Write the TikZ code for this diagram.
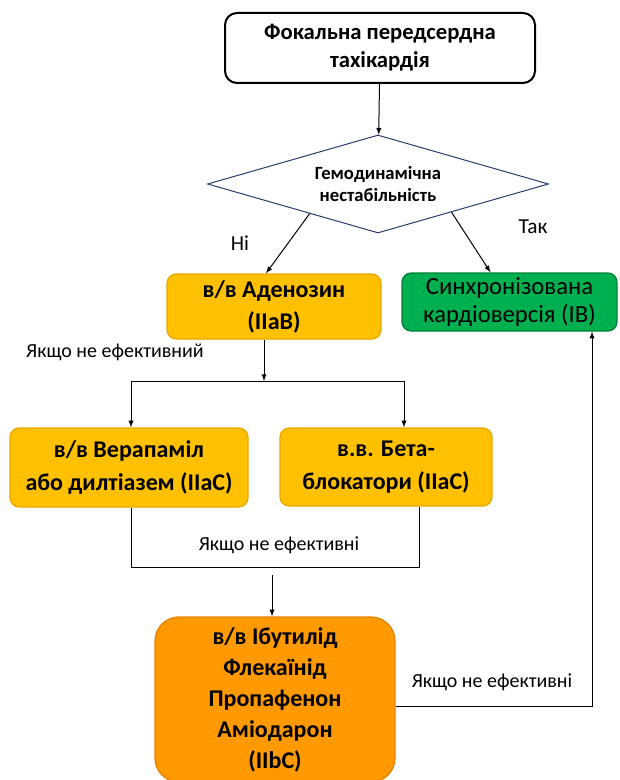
\documentclass[tikz,border=0pt]{standalone}
\usepackage{fontspec}
\setmainfont{Carlito}
\usetikzlibrary{arrows}
\usetikzlibrary{shapes.geometric, calc}
\definecolor{mygold}{RGB}{255,192,0}
\definecolor{mygoldline}{RGB}{232,168,0}
\definecolor{mygreen}{RGB}{0,176,80}
\definecolor{mygreenline}{RGB}{0,128,56}
\definecolor{myorange}{RGB}{255,153,0}
\definecolor{myorangeline}{RGB}{228,132,0}
\definecolor{mynavy}{RGB}{40,60,110}

\begin{document}
\begin{tikzpicture}[x=0.75pt,y=-0.75pt,
  box/.style={rounded corners=7pt, align=center, inner sep=0pt, line width=1pt},
  drug/.style={box, fill=mygold, draw=mygoldline, font=\fontsize{18}{24}\selectfont\bfseries},
  note/.style={font=\fontsize{15}{17}\selectfont},
  link/.style={line width=0.75pt}
]
\useasboundingbox (0,0) rectangle (619,780);

% nodes
\node[box, draw=black, line width=1.5pt, rounded corners=9pt, minimum width=232.5pt, minimum height=52.5pt,
  font=\fontsize{17}{21}\selectfont\bfseries] (fat) at (380,48) {Фокальна передсердна\\тахікардія};
\node[diamond, draw=mynavy, line width=0.75pt, aspect=3.5, inner sep=0pt, minimum width=255.75pt, minimum height=73.5pt,
  align=center, font=\fontsize{14}{16.5}\selectfont\bfseries] (hemo) at (378,184) {Гемодинамічна\\нестабільність};
\node[drug, minimum width=160.5pt, minimum height=48.75pt] (aden) at (274,306.5) {в/в Аденозин\\(IIaB)};
\node[box, fill=mygreen, draw=mygreenline, minimum width=161.25pt, minimum height=43.5pt,
  font=\fontsize{18.5}{21}\selectfont] (sync) at (509.5,302) {Синхронізована\\кардіоверсія (IB)};
\node[drug, minimum width=178.5pt, minimum height=59.25pt, font=\fontsize{18}{24.75}\selectfont\bfseries] (verap) at (129,467.5) {в/в Верапаміл\\або дилтіазем (IIaC)};
\node[drug, minimum width=159pt, minimum height=58.5pt, font=\fontsize{18}{24.75}\selectfont\bfseries] (beta) at (386,467) {в.в. Бета-\\блокатори (IIaC)};
\node[box, fill=myorange, draw=myorangeline, rounded corners=18pt, minimum width=180pt, minimum height=123.75pt,
  font=\fontsize{18}{23.25}\selectfont\bfseries] (amio) at (275,699.5) {в/в Ібутилід\\Флекаїнід\\Пропафенон\\Аміодарон\\(IIbC)};

% labels
\node[font=\fontsize{16}{18}\selectfont] (no) at (240,243) {Ні};
\node[font=\fontsize{16}{18}\selectfont] (yes) at (533,227) {Так};
\node[note] (fail1) at (115,352) {Якщо не ефективний};
\node[note] (fail2) at (279,545) {Якщо не ефективні};
\node[note] (fail3) at (492,682) {Якщо не ефективні};

% coordinates
\coordinate (noStart) at ($(hemo.west)!0.6!(hemo.south)$);
\coordinate (noEnd) at ($(aden.north)+(-8,0)$);
\coordinate (yesStart) at ($(hemo.south)!0.43!(hemo.east)$);
\coordinate (yesEnd) at ($(sync.north)+(-19,0)$);
\coordinate (split) at (264,381);
\coordinate (splitL) at (131,381);
\coordinate (splitR) at (404,381);
\coordinate (joinL) at (131,567);
\coordinate (joinR) at (419,567);
\coordinate (down) at (272,575);
\coordinate (back) at (592,706);

% connectors
\draw[-latex, link] (fat) -- (hemo);
\draw[-latex, link] (noStart) -- (noEnd);
\draw[-latex, link] (yesStart) -- (yesEnd);
\draw[-latex, link] (aden.south -| split) -- (split);
\draw[link] (splitL) -- (splitR);
\draw[-latex, link] (splitL) -- (splitL |- verap.north);
\draw[-latex, link] (splitR) -- (splitR |- beta.north);
\draw[link] (verap.south -| joinL) -- (joinL) -- (joinR) -- (beta.south -| joinR);
\draw[-latex, link] (down) -- (down |- amio.north);
\draw[-latex, link] (amio.east |- back) -- (back) -- (back |- sync.south);

\end{tikzpicture}
\end{document}
